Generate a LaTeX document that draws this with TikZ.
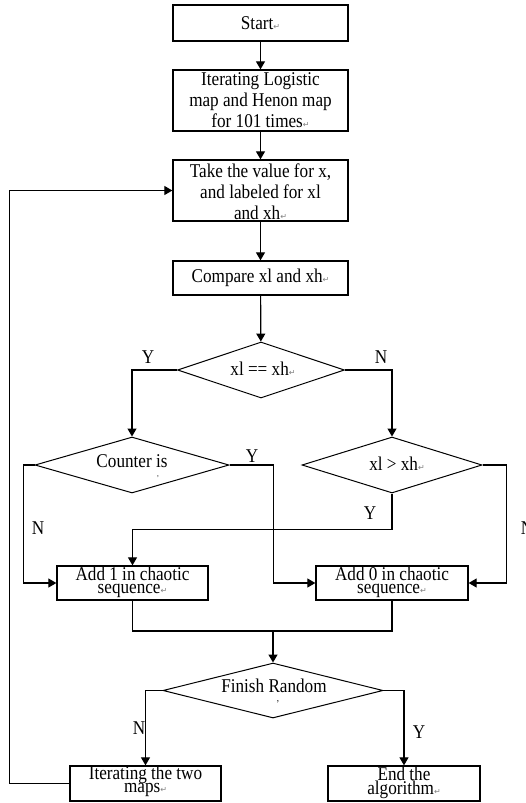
\documentclass[tikz,border=0pt]{standalone}
\usepackage{fontspec}
\setmainfont[FakeStretch=0.88]{Liberation Serif}
\newfontfamily\retfont{DejaVu Sans}
\usetikzlibrary{shapes.geometric, arrows.meta, positioning}

% paragraph mark left over from the word processor
\newcommand{\ret}{{\retfont\fontsize{8}{8}\selectfont\color{gray}↵}}

\tikzset{
  procbox/.style={draw, line width=1.3pt, minimum width=175pt, inner sep=0pt,
    font=\fontsize{19.5}{21}\selectfont},
  smallbox/.style={draw, line width=1.3pt, inner sep=0pt},
  decide/.style={draw, diamond, line width=1pt, inner sep=0pt},
  btext/.style={align=center, inner sep=0pt, font=\fontsize{19.5}{21}\selectfont},
  stext/.style={align=center, inner sep=0pt, font=\fontsize{19.5}{13.5}\selectfont},
  dtext/.style={inner sep=0pt, anchor=base, font=\fontsize{19.5}{21}\selectfont},
  yn/.style={inner sep=0pt, font=\fontsize{19.5}{21}\selectfont},
  conn/.style={line width=1.2pt},
}

\begin{document}
\begin{tikzpicture}[x=1pt, y=-1pt, >={Triangle[length=8pt, width=9pt]}]
  \useasboundingbox (0,0) rectangle (526,803);

  % main column
  \node[procbox, minimum height=36pt] (start) at (260.5,23) {Start\ret};
  \node[procbox, minimum height=61pt] (iter) at (260.5,100.5) {};
  \node[btext, below=3.5pt of iter.north] (iterT) {Iterating Logistic\\map and Henon map\\for 101 times\ret};
  \node[procbox, minimum height=61pt] (take) at (260.5,190.5) {};
  \node[btext, below=4pt of take.north] (takeT) {Take the value for x,\\and labeled for xl\\and xh\ret};
  \node[procbox, minimum height=34pt] (comp) at (260.5,278) {Compare xl and xh\ret};

  % decisions
  \node[decide, minimum width=167pt, minimum height=56pt] (eq) at (261,370) {};
  \node[dtext] (eqT) at (263,375) {xl == xh\ret};
  \node[decide, minimum width=194pt, minimum height=56pt] (cnt) at (132,465) {};
  \node[dtext] (cntT) at (132,467) {Counter is};
  \node[inner sep=0pt, font=\fontsize{8}{8}\selectfont] (cntM) at (158,477) {,};
  \node[decide, minimum width=180pt, minimum height=56pt] (gt) at (392,465) {};
  \node[dtext] (gtT) at (397,470) {xl > xh\ret};

  % chaotic sequence
  \node[smallbox, minimum width=151pt, minimum height=34pt] (add1) at (132.5,583) {};
  \node[stext, below=1pt of add1.north] (add1T) {Add 1 in chaotic\\sequence\ret};
  \node[smallbox, minimum width=152pt, minimum height=34pt] (add0) at (392,583) {};
  \node[stext, below=1pt of add0.north] (add0T) {Add 0 in chaotic\\sequence\ret};
  \coordinate (mrg) at (273,631);

  \node[decide, minimum width=220pt, minimum height=55pt] (fin) at (273,690.5) {};
  \node[dtext] (finT) at (274,692) {Finish Random};
  \node[inner sep=0pt, font=\fontsize{10}{10}\selectfont] (finM) at (278,702) {,};

  \node[smallbox, minimum width=151pt, minimum height=35pt] (it2) at (145.5,783.5) {};
  \node[stext, below=0pt of it2.north] (it2T) {Iterating the two\\maps\ret};
  \node[smallbox, minimum width=152pt, minimum height=35pt] (end) at (404,783.5) {};
  \node[stext, below=1pt of end.north] (endT) {End the\\algorithm\ret};

  % Y / N labels
  \node[yn] (y1) at (148,357) {Y};
  \node[yn] (n1) at (381,357) {N};
  \node[yn] (y2) at (252,456) {Y};
  \node[yn] (n2) at (38,528) {N};
  \node[yn] (y3) at (370,513) {Y};
  \node[yn] (n3) at (527,528) {N};
  \node[yn] (n4) at (139,728) {N};
  \node[yn] (y4) at (419,732) {Y};

  % connectors
  \draw[conn, ->] (start) -- (iter);
  \draw[conn, ->] (iter) -- (take);
  \draw[conn, ->] (take) -- (comp);
  \draw[conn, ->] (comp) -- (eq);
  \draw[conn, ->] (eq.west) -| (cnt.north);
  \draw[conn, ->] (eq.east) -| (gt.north);
  \draw[conn, ->] (cnt.west) -- ++(-11,0) |- (add1.west);
  \draw[conn, ->] (cnt.east) -- ++(44,0) |- (add0.west);
  \draw[conn, ->] (gt.south) -- ++(0,36) -| (add1.north);
  \draw[conn, ->] (gt.east) -- ++(24,0) |- (add0.east);
  \draw[conn] (add1.south) |- (mrg) -| (add0.south);
  \draw[conn, line width=1.6pt, ->] (mrg) -- (fin.north);
  \draw[conn, ->] (fin.west) -| (it2.north);
  \draw[conn, ->] (fin.east) -| (end.north);
  \draw[conn, ->] (it2.west) -- ++(-60,0) |- (take.west);
\end{tikzpicture}
\end{document}
